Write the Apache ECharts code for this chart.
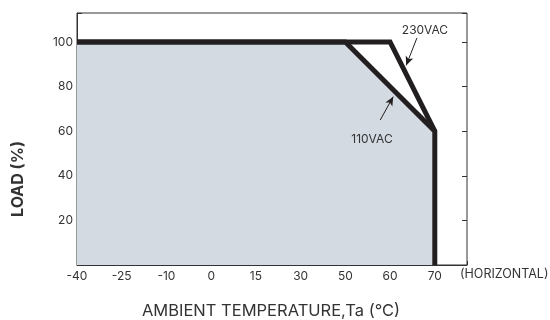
<!DOCTYPE html>
<html>
<head>
<meta charset="utf-8">
<script src="https://cdn.jsdelivr.net/npm/echarts@6/dist/echarts.min.js"></script>
<style>
  html, body { margin: 0; padding: 0; background: #fff; }
  #chart { width: 550px; height: 320px; }
</style>
</head>
<body>
<div id="chart"></div>
<script>
// x axis tick labels (evenly spaced, not linear)
var xLabels = ['-40', '-25', '-10', '0', '15', '30', '50', '60', '70'];
// 110VAC derating curve
var temp110 = [-40, 50, 70, 70];
var load110 = [100, 100, 60, 0];
// 230VAC derating curve
var temp230 = [-40, 60, 70];
var load230 = [100, 100, 60];
// annotation arrows, in axis units (tick index, load %)
var arrow230 = [[7.6, 101.8], [7.36, 89.5]];
var arrow110 = [[6.78, 65], [7.07, 75.5]];

var ink = '#231f20';
var textColor = '#333';
var fontFamily = 'Inter, "Liberation Sans", sans-serif';

function toIdx(t) {
  return xLabels.indexOf(String(t));
}
function pairs(xs, ys) {
  var out = [];
  for (var i = 0; i < xs.length; i++) out.push([toIdx(xs[i]), ys[i]]);
  return out;
}

var myChart = echarts.init(document.getElementById('chart'));
var option = {
  animation: false,
  textStyle: { fontFamily: fontFamily },
  grid: {
    left: 77, right: 83, top: 13, bottom: 55,
    show: true, borderColor: '#333', borderWidth: 1
  },
  xAxis: {
    type: 'value',
    min: 0,
    max: 8.72,
    interval: 1,
    axisLine: { lineStyle: { color: '#333', width: 1 } },
    axisTick: { inside: true, length: 4, lineStyle: { color: '#333' } },
    splitLine: { show: false },
    axisLabel: {
      color: textColor, fontSize: 12, margin: 5,
      formatter: function (v) {
        return Number.isInteger(v) && v < xLabels.length ? xLabels[v] : '';
      }
    }
  },
  yAxis: [
    {
      type: 'value',
      min: 0,
      max: 113,
      interval: 20,
      axisLine: { show: true, lineStyle: { color: '#333', width: 1 } },
      axisTick: { inside: true, length: 5, lineStyle: { color: '#333' } },
      splitLine: { show: false },
      axisLabel: {
        color: textColor, fontSize: 12, margin: 4,
        formatter: function (v) { return (v === 0 || v > 100) ? '' : v; }
      }
    },
    {
      type: 'value',
      position: 'right',
      min: 0,
      max: 113,
      interval: 20,
      axisLine: { show: false },
      axisTick: { inside: true, length: 5, lineStyle: { color: '#333' } },
      splitLine: { show: false },
      axisLabel: { show: false }
    }
  ],
  series: [
    {
      name: '110VAC',
      type: 'line',
      data: pairs(temp110, load110),
      symbol: 'none',
      lineStyle: { color: ink, width: 5, join: 'miter' },
      areaStyle: { color: '#d4dae2', opacity: 1 },
      z: 2,
      markLine: {
        silent: true,
        symbol: ['none', 'arrow'],
        symbolSize: [6, 9],
        label: { show: false },
        lineStyle: { color: ink, width: 1, type: 'solid' },
        data: [
          [{ coord: arrow230[0] }, { coord: arrow230[1] }],
          [{ coord: arrow110[0] }, { coord: arrow110[1] }]
        ]
      }
    },
    {
      name: '230VAC',
      type: 'line',
      data: pairs(temp230, load230),
      symbol: 'none',
      lineStyle: { color: ink, width: 5, join: 'miter' },
      z: 3
    }
  ],
  graphic: [
    {
      type: 'text', x: 425, y: 30, z: 100,
      style: {
        text: '230VAC', fill: textColor, font: '12px ' + fontFamily,
        align: 'center', verticalAlign: 'middle'
      }
    },
    {
      type: 'text', x: 372, y: 139, z: 100,
      style: {
        text: '110VAC', fill: textColor, font: '12px ' + fontFamily,
        align: 'center', verticalAlign: 'middle'
      }
    },
    {
      type: 'text', x: 460, y: 274, z: 100,
      style: {
        text: '(HORIZONTAL)', fill: textColor, font: '12.5px ' + fontFamily,
        align: 'left', verticalAlign: 'middle'
      }
    },
    {
      type: 'text', x: 271, y: 311, z: 100,
      style: {
        text: 'AMBIENT TEMPERATURE,Ta (°C)', fill: textColor, font: '16.5px ' + fontFamily,
        align: 'center', verticalAlign: 'middle'
      }
    },
    {
      type: 'text', x: 18, y: 179, rotation: Math.PI / 2, z: 100,
      style: {
        text: 'LOAD (%)', fill: textColor, font: 'bold 16px ' + fontFamily,
        align: 'center', verticalAlign: 'middle'
      }
    }
  ]
};
myChart.setOption(option);
window.addEventListener('resize', function () {
  myChart.resize();
});
</script>
</body>
</html>
